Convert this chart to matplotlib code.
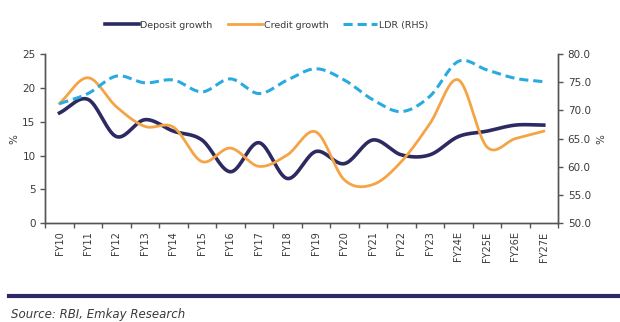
import matplotlib
matplotlib.use('Agg')
import matplotlib.pyplot as plt
import numpy as np

# Data
years = ['FY10', 'FY11', 'FY12', 'FY13', 'FY14', 'FY15', 'FY16', 'FY17', 'FY18',
         'FY19', 'FY20', 'FY21', 'FY22', 'FY23', 'FY24E', 'FY25E', 'FY26E', 'FY27E']
deposit_growth = [16.3, 18.3, 12.8, 15.3, 13.6, 12.3, 7.6, 11.9, 6.6,
                  10.6, 8.8, 12.3, 10.1, 10.1, 12.8, 13.6, 14.5, 14.5]
credit_growth = [17.7, 21.5, 17.2, 14.3, 14.2, 9.1, 11.1, 8.4, 10.1,
                 13.5, 6.4, 5.7, 9.1, 14.7, 21.2, 11.3, 12.5, 13.6]
ldr = [71.2, 73.0, 76.1, 74.9, 75.4, 73.3, 75.6, 73.0, 75.4,
       77.4, 75.4, 71.9, 69.8, 72.5, 78.7, 77.2, 75.7, 75.1]

NAVY = '#2d2a62'
ORANGE = '#f5a445'
CYAN = '#29abe2'
AXIS = '#555555'
TEXT = '#3a3a3a'


def smooth(y, n=20):
    # Catmull-Rom curve through the points (like Excel "smoothed line")
    y = np.asarray(y, dtype=float)
    x = np.arange(len(y), dtype=float)
    px = np.concatenate([[2 * x[0] - x[1]], x, [2 * x[-1] - x[-2]]])
    py = np.concatenate([[2 * y[0] - y[1]], y, [2 * y[-1] - y[-2]]])
    xs, ys = [], []
    for i in range(1, len(px) - 2):
        t = np.linspace(0, 1, n, endpoint=False)
        for arr, out in ((px, xs), (py, ys)):
            p0, p1, p2, p3 = arr[i - 1], arr[i], arr[i + 1], arr[i + 2]
            out.extend(0.5 * (2 * p1 + (-p0 + p2) * t
                              + (2 * p0 - 5 * p1 + 4 * p2 - p3) * t ** 2
                              + (-p0 + 3 * p1 - 3 * p2 + p3) * t ** 3))
    xs.append(x[-1])
    ys.append(y[-1])
    return np.array(xs), np.array(ys)


plt.rcParams['font.family'] = ['DejaVu Sans']

fig = plt.figure(figsize=(6.2, 3.22), dpi=100)
ax = fig.add_axes([0.073, 0.307, 0.827, 0.525])
ax2 = ax.twinx()

x = np.arange(len(years))
l1, = ax.plot(*smooth(deposit_growth), color=NAVY, lw=2.6, label='Deposit growth')
l2, = ax.plot(*smooth(credit_growth), color=ORANGE, lw=2.0, label='Credit growth')
l3, = ax2.plot(*smooth(ldr), color=CYAN, lw=2.2, ls=(0, (3, 1.6)), label='LDR (RHS)')

ax.set_xlim(-0.5, len(years) - 0.5)
ax.set_ylim(0, 25)
ax.set_yticks(range(0, 26, 5))
ax2.set_ylim(50, 80)
ax2.set_yticks(np.arange(50, 81, 5))
ax2.set_yticklabels([f'{v:.1f}' for v in np.arange(50, 81, 5)])

ax.set_xticks(x)
ax.set_xticklabels(years, rotation=90)
ax.set_xticks(np.arange(-0.5, len(years), 1), minor=True)

for a in (ax, ax2):
    a.spines['top'].set_visible(False)
    for s in ('left', 'right', 'bottom'):
        a.spines[s].set_color(AXIS)
        a.spines[s].set_linewidth(1.0)
    a.tick_params(axis='both', which='both', colors=AXIS, labelcolor=TEXT,
                  labelsize=7.5, length=3.5, width=1.0)
ax.tick_params(axis='x', which='major', length=0, pad=6, labelsize=7)
ax.tick_params(axis='x', which='minor', length=3.5)

ax.set_ylabel('%', fontsize=7.5, color=TEXT, labelpad=2)
ax2.set_ylabel('%', fontsize=7.5, color=TEXT, labelpad=4)

fig.legend(handles=[l1, l2, l3], loc='center', bbox_to_anchor=(0.43, 0.922),
           ncol=3, frameon=False, fontsize=6.8, handlelength=3.6,
           columnspacing=1.6, handletextpad=0.2, labelcolor=TEXT)

# Bottom rule and source note
fig.add_artist(plt.Line2D([0.015, 1.0], [0.082, 0.082], color=NAVY, lw=3,
                          transform=fig.transFigure))
fig.text(0.018, 0.012, 'Source: RBI, Emkay Research', fontsize=8.5,
         style='italic', color=TEXT)

fig.savefig('out.png', dpi=100, facecolor='white')
